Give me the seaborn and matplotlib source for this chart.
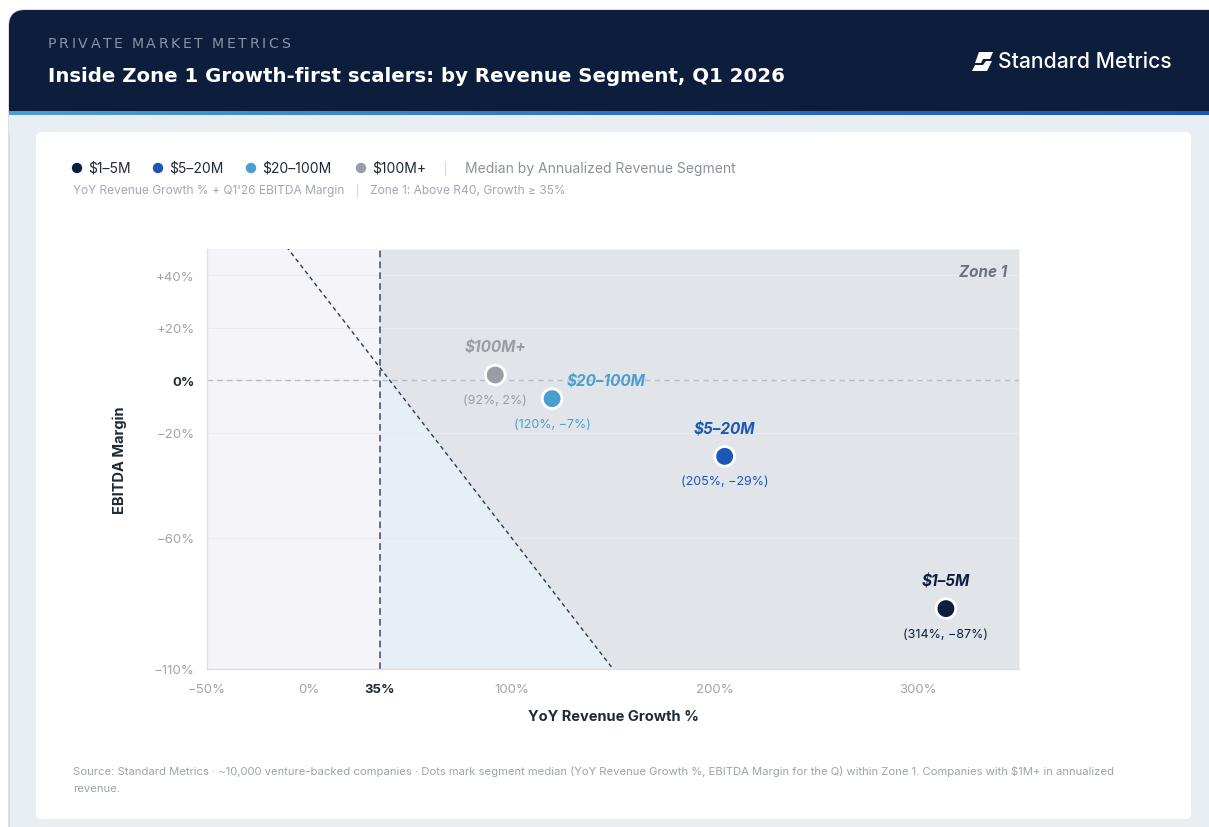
import numpy as np
import pandas as pd
import matplotlib
matplotlib.use("Agg")
import matplotlib.pyplot as plt
import seaborn as sns
from matplotlib.patches import FancyBboxPatch, Rectangle, Polygon, Circle
from matplotlib.colors import LinearSegmentedColormap

# ---- data -------------------------------------------------------------
segments = ["$1–5M", "$5–20M", "$20–100M", "$100M+"]
growth = [314, 205, 120, 92]          # YoY revenue growth, %
margin = [-87, -29, -7, 2]            # EBITDA margin, %
seg_colors = ["#0d1f3f", "#1b57b5", "#4a9fd0", "#9a9ea4"]

x_ticks = [-50, 0, 35, 100, 200, 300]
x_tick_labels = ["−50%", "0%", "35%", "100%", "200%", "300%"]
y_ticks = [40, 20, 0, -20, -60, -110]
y_tick_labels = ["+40%", "+20%", "0%", "−20%", "−60%", "−110%"]

growth_threshold = 35
rule_of = 40
x_range = (-50, 350)
y_range = (-110, 50)

# ---- figure -----------------------------------------------------------
sns.set_theme(style="white")
plt.rcParams["font.family"] = ["Inter", "DejaVu Sans"]
W, H = 1209, 828
fig = plt.figure(figsize=(W / 100, H / 100), dpi=100)
fig.patch.set_facecolor("white")

# decoration layer in pixel coordinates
bg = fig.add_axes([0, 0, 1, 1], zorder=-10)
bg.axis("off")

# outer panel
bg.add_patch(FancyBboxPatch((9, 11), W + 30, H + 30,
                            boxstyle="round,pad=0,rounding_size=16",
                            facecolor="#e9eef3", edgecolor="#d6d9dd", lw=1.2))
# header band
bg.add_patch(FancyBboxPatch((9, 11), W + 30, 120,
                            boxstyle="round,pad=0,rounding_size=16",
                            facecolor="#0c1e3c", edgecolor="none"))
bg.add_patch(Rectangle((9, 60), W, 52, facecolor="#0c1e3c", edgecolor="none"))
bg.add_patch(Rectangle((9, 116), W, 20, facecolor="#e9eef3", edgecolor="none"))
# accent strip
grad = np.linspace(0, 1, 256).reshape(1, -1)
strip_cmap = LinearSegmentedColormap.from_list("strip", ["#4d9fd2", "#2f74c4", "#1b57b5"])
bg.imshow(grad, cmap=strip_cmap, extent=(9, W, 116, 112), aspect="auto", zorder=2)
bg.set_xlim(0, W)
bg.set_ylim(H, 0)

# white card
bg.add_patch(FancyBboxPatch((36, 133), 1155, 687,
                            boxstyle="round,pad=0,rounding_size=6",
                            facecolor="white", edgecolor="none", zorder=1))

# header text with letter spacing
renderer = fig.canvas.get_renderer()
def spaced_text(x, y, s, tracking, **kw):
    for ch in s:
        if ch == " ":
            x += kw.get("fontsize", 10) * 0.35 + tracking
            continue
        t = bg.text(x, y, ch, va="center", ha="left", **kw)
        bb = t.get_window_extent(renderer)
        x += bb.width + tracking

spaced_text(48, 44, "PRIVATE MARKET METRICS", 2.6, fontsize=10.2,
            color="#8794a7", family="DejaVu Sans", zorder=3)
bg.text(48, 76, "Inside Zone 1 Growth-first scalers: by Revenue Segment, Q1 2026",
        va="center", ha="left", fontsize=14.2, fontweight="bold", color="white",
        family="DejaVu Sans", zorder=3)

# brand mark
bg.add_patch(Polygon([(979, 53), (993, 53), (990, 60), (983, 60), (981, 64), (975, 64)],
                     closed=True, facecolor="white", edgecolor="none", zorder=3))
bg.add_patch(Polygon([(986, 62), (992, 62), (987, 72), (972, 72), (975, 66), (983, 66)],
                     closed=True, facecolor="white", edgecolor="none", zorder=3))
bg.text(998, 62, "Standard Metrics", va="center", ha="left", fontsize=15.2,
        fontweight="medium", color="white", zorder=3)

# legend row
leg_x = [77, 158, 251, 361]
for cx, name, col in zip(leg_x, segments, seg_colors):
    bg.add_patch(Circle((cx, 169), 5.2, facecolor=col, edgecolor="none", zorder=3))
    bg.text(cx + 11, 169, name, va="center", ha="left", fontsize=10,
            color="#1f2937", parse_math=False, zorder=3)
bg.plot([445, 445], [162, 176], color="#dde0e5", lw=1, zorder=3)
bg.text(465, 169, "Median by Annualized Revenue Segment", va="center", ha="left",
        fontsize=10, color="#8b929b", zorder=3)
bg.text(73, 191, "YoY Revenue Growth % + Q1'26 EBITDA Margin", va="center", ha="left",
        fontsize=8.6, color="#a2a8b0", zorder=3)
bg.plot([357, 357], [185, 198], color="#dde0e5", lw=1, zorder=3)
bg.text(370, 191, "Zone 1: Above R40, Growth ≥ 35%", va="center", ha="left",
        fontsize=8.6, color="#a2a8b0", zorder=3)

# footer
bg.text(73, 772, "Source: Standard Metrics · ~10,000 venture-backed companies · Dots mark segment "
        "median (YoY Revenue Growth %, EBITDA Margin for the Q) within Zone 1. Companies with "
        "$1M+ in annualized", va="center", ha="left", fontsize=8.1, color="#9ca3ab",
        parse_math=False, zorder=3)
bg.text(73, 789, "revenue.", va="center", ha="left", fontsize=8.1, color="#9ca3ab", zorder=3)

# ---- main plot --------------------------------------------------------
ax = fig.add_axes([207 / W, 1 - 670 / H, (1019 - 207) / W, (670 - 250) / H])
ax.set_facecolor("none")
ax.set_xlim(*x_range)
ax.set_ylim(*y_range)

# regions
ax.axvspan(x_range[0], growth_threshold, color="#f4f4f9", lw=0, zorder=0)
xs = np.linspace(growth_threshold, x_range[1], 200)
r40 = rule_of - xs
ax.fill_between(xs, y_range[0], np.clip(r40, y_range[0], y_range[1]),
                color="#e6eef6", lw=0, zorder=0)
ax.fill_between(xs, np.clip(r40, y_range[0], y_range[1]), y_range[1],
                color="#e1e5e9", lw=0, zorder=0)

for yt in y_ticks:
    ax.axhline(yt, color="#e9ebf0", lw=0.8, zorder=1)
ax.axhline(0, color="#b9bdc4", lw=1, ls=(0, (4, 3)), zorder=2)
ax.axvline(growth_threshold, color="#4a5670", lw=1.2, ls=(0, (4, 2.5)), zorder=2)
xl = np.array(x_range)
ax.plot(xl, rule_of - xl, color="#2b3a55", lw=1, ls=(0, (3, 2.5)), zorder=2)

df = pd.DataFrame({"segment": segments, "growth": growth, "margin": margin})
sns.scatterplot(data=df, x="growth", y="margin", hue="segment",
                palette=dict(zip(segments, seg_colors)), s=200,
                edgecolor="white", linewidth=2, legend=False, ax=ax, zorder=5)

# point labels
name_offsets = {"$1–5M": (0, 20), "$5–20M": (0, 20), "$20–100M": (39, 13), "$100M+": (0, 20)}
for seg, gx, my, col in zip(segments, growth, margin, seg_colors):
    ax.annotate(seg, (gx, my), xytext=name_offsets[seg], textcoords="offset points",
                ha="center", va="center", fontsize=11, fontweight="bold",
                fontstyle="italic", color=col, parse_math=False, zorder=6)
    ax.annotate(f"({gx}%, {my}%)".replace("-", "−"), (gx, my), xytext=(0, -18),
                textcoords="offset points", ha="center", va="center",
                fontsize=9, color=col, zorder=6)

ax.text(0.986, 0.947, "Zone 1", transform=ax.transAxes, ha="right", va="center",
        fontsize=11, fontweight="bold", fontstyle="italic", color="#6b7280", zorder=6)

# axes styling
ax.set_xticks(x_ticks)
ax.set_xticklabels(x_tick_labels)
ax.set_yticks(y_ticks)
ax.set_yticklabels(y_tick_labels)
ax.tick_params(axis="both", labelsize=9.5, labelcolor="#a0a4ab", length=4,
               color="#d5d8de", width=1, pad=6)
ax.tick_params(axis="y", length=0, pad=9)
for lbl in ax.get_xticklabels():
    if lbl.get_text() == "35%":
        lbl.set_color("#1f2937")
        lbl.set_fontweight("bold")
for lbl in ax.get_yticklabels():
    if lbl.get_text() == "0%":
        lbl.set_color("#1f2937")
        lbl.set_fontweight("bold")

for side in ["top", "right"]:
    ax.spines[side].set_visible(False)
for side in ["left", "bottom"]:
    ax.spines[side].set_color("#dcdfe4")
    ax.spines[side].set_linewidth(1)

ax.set_xlabel("YoY Revenue Growth %", fontsize=10.5, fontweight="bold",
              color="#1f2937", labelpad=10)
ax.set_ylabel("EBITDA Margin", fontsize=10.5, fontweight="bold",
              color="#1f2937", labelpad=19)

fig.savefig("out.png", dpi=100, facecolor=fig.get_facecolor())
